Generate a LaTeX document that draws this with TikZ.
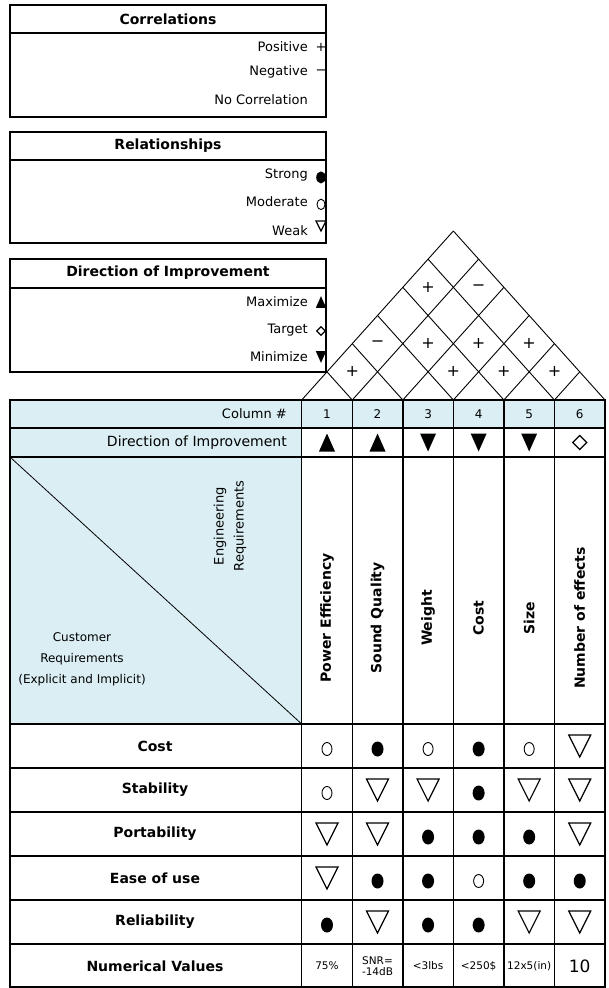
\documentclass[tikz,border=0pt]{standalone}
\usepackage{fontspec}
\setmainfont{DejaVu Sans}
\definecolor{qfdblue}{RGB}{218,238,243}

\begin{document}
\begin{tikzpicture}[x=1pt, y=-1pt,
	every node/.style={font=\fontsize{13}{15}\selectfont, inner sep=0pt},
	bold/.style={font=\fontsize{14}{16}\selectfont\bfseries},
	small/.style={font=\fontsize{12}{14}\selectfont},
	tiny/.style={font=\fontsize{10.5}{11}\selectfont},
	sign/.style={font=\fontsize{16}{16}\selectfont},
	grid/.style={line width=1.4pt},
	roof/.style={line width=0.9pt},
	box/.style={draw, line width=1.2pt},
	strong/.pic={\fill (0,3) ellipse [x radius=6, y radius=7.5];},
	moderate/.pic={\draw[line width=0.9pt] (0,3) ellipse [x radius=5, y radius=6.5];},
	weak/.pic={\draw[line width=1.2pt] (-11,-11) -- (11,-11) -- (0,11) -- cycle;},
	maxi/.pic={\fill (-8,9) -- (8,9) -- (0,-9) -- cycle;},
	mini/.pic={\fill (-8,-9) -- (8,-9) -- (0,9) -- cycle;},
	target/.pic={\draw[line width=1.2pt] (-7,0) -- (0,-7) -- (7,0) -- (0,7) -- cycle;}]
	\useasboundingbox (0,0) rectangle (608,988);

	% legends
	\draw[box] (10,5) rectangle (326,117);
	\draw[box] (10,33) -- (326,33);
	\node[bold] (corr) at (168,19) {Correlations};
	\node[anchor=east] (pos) at (308,47) {Positive};
	\node[anchor=east] (neg) at (308,72) {Negative};
	\node[anchor=east] (none) at (308,100) {No Correlation};
	\node[font=\fontsize{13}{13}\selectfont] (pos-sign) at (321,47) {+};
	\node[font=\fontsize{13}{13}\selectfont] (neg-sign) at (321,72) {\char"2212};

	\draw[box] (10,132) rectangle (326,243);
	\draw[box] (10,160) -- (326,160);
	\node[bold] (rel) at (168,146) {Relationships};
	\node[anchor=east] (str) at (308,175) {Strong};
	\node[anchor=east] (mod) at (308,202) {Moderate};
	\node[anchor=east] (wk) at (308,231) {Weak};
	\pic[scale=0.8] (str-sym) at (321,175) {strong};
	\pic[scale=0.8] (mod-sym) at (321,202) {moderate};
	\pic[scale=0.45] (wk-sym) at (321,226) {weak};

	\draw[box] (10,259) rectangle (326,372);
	\draw[box] (10,288) -- (326,288);
	\node[bold] (doi) at (168,273) {Direction of Improvement};
	\node[anchor=east] (max) at (308,302) {Maximize};
	\node[anchor=east] (tgt) at (308,330) {Target};
	\node[anchor=east] (min) at (308,357) {Minimize};
	\pic[scale=0.65] (max-sym) at (321,302) {maxi};
	\pic[scale=0.6] (tgt-sym) at (321,331) {target};
	\pic[scale=0.65] (min-sym) at (321,357) {mini};

	% roof
	\foreach \i in {0,...,5}
		\draw[roof] ({301.7+\i*50.55},400) -- ++({(6-\i)*25.275},{-(6-\i)*28.17});
	\foreach \i in {1,...,6}
		\draw[roof] ({301.7+\i*50.55},400) -- ++({-\i*25.275},{-\i*28.17});
	\foreach \i/\j/\s in {1/2/+, 3/4/+, 4/5/+, 5/6/+, 1/3/{\char"2212}, 2/4/+, 3/5/+, 4/6/+, 1/5/+, 2/6/{\char"2212}}
		\node[sign] (c\i\j) at ({301.7+(\i+\j-1)*25.275},{400-(\j-\i)*28.17}) {\s};

	% house
	\fill[qfdblue] (10,400) rectangle (605,428);
	\fill[qfdblue] (10,428) rectangle (301.7,724);
	\draw[line width=0.8pt] (10,457) -- (301.7,724);
	\foreach \y in {428,457,724,768,812,856,900,944}
		\draw[grid] (10,\y) -- (605,\y);
	\foreach \i in {0,...,5}
		\draw[grid] ({301.7+\i*50.55},400) -- ({301.7+\i*50.55},987);
	\draw[grid] (10,400) rectangle (605,987);

	\node[anchor=east] (colno) at (287,414) {Column \#};
	\node[anchor=east, font=\fontsize{14}{16}\selectfont] (dirimp) at (287,442.5) {Direction of Improvement};
	\node[rotate=90, align=center, font=\fontsize{13}{20}\selectfont] (eng) at (230,526) {Engineering\\Requirements};
	\node[align=center, font=\fontsize{12}{21}\selectfont] (cust) at (82,659) {Customer\\Requirements\\(Explicit and Implicit)};

	\foreach \c in {1,...,6}
		\node[small] (num\c) at ({301.7+(\c-0.5)*50.55},414) {\c};
	\foreach \m [count=\c] in {maxi,maxi,mini,mini,mini,target}
		\pic (d\c) at ({301.7+(\c-0.5)*50.55},442.5) {\m};
	\foreach \t [count=\c] in {Power Efficiency, Sound Quality, Weight, Cost, Size, Number of effects}
		\node[bold, rotate=90] (er\c) at ({301.7+(\c-0.5)*50.55},618) {\t};
	\foreach \t [count=\r] in {Cost, Stability, Portability, Ease of use, Reliability, Numerical Values}
		\node[bold] (cr\r) at (155,{702+44*\r}) {\t};

	% relationships
	\foreach \row [count=\r] in {{moderate,strong,moderate,strong,moderate,weak},
			{moderate,weak,weak,strong,weak,weak},
			{weak,weak,strong,strong,strong,weak},
			{weak,strong,strong,moderate,strong,strong},
			{strong,weak,strong,strong,weak,weak}}
		\foreach \m [count=\c] in \row
			\pic (m\r\c) at ({301.7+(\c-0.5)*50.55},{702+44*\r}) {\m};

	% targets
	\foreach \t [count=\c] in {75\%, {SNR=\\-14dB}, <3lbs, <250\$, 12x5(in)}
		\node[tiny, align=center] (val\c) at ({301.7+(\c-0.5)*50.55},966) {\t};
	\node[font=\fontsize{17}{19}\selectfont] (val6) at ({301.7+5.5*50.55},966) {10};
\end{tikzpicture}
\end{document}
